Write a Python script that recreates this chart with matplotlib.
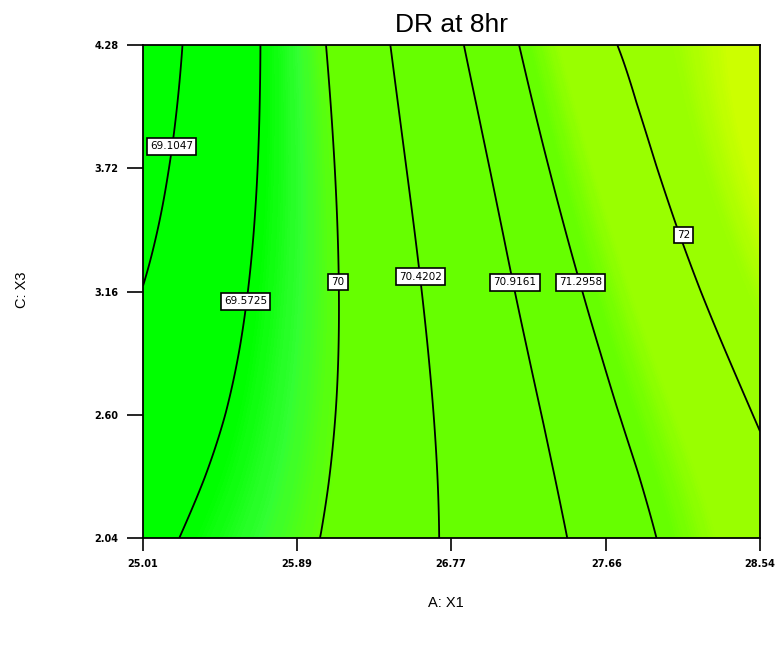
import numpy as np
import matplotlib
matplotlib.use("Agg")
import matplotlib.pyplot as plt
from matplotlib.colors import LinearSegmentedColormap, Normalize

# Axis ranges and ticks (A: X1 horizontal, C: X3 vertical)
x_ticks = [25.01, 25.89, 26.77, 27.66, 28.54]
y_ticks = [2.04, 2.60, 3.16, 3.72, 4.28]
x_lo, x_hi = 25.01, 28.54

# Contour levels of DR at 8hr
levels = [69.1047, 69.5725, 70, 70.4202, 70.9161, 71.2958, 72]

rows_y = [4.28, 4.00, 3.72, 3.44, 3.16, 2.88, 2.60, 2.32, 2.04]

# A: X1 position where each contour crosses each row (nan = not in view)
nan = np.nan
cross_69_1047 = [25.237, 25.205, 25.153, 25.083, nan, nan, nan, nan, nan]
cross_69_5725 = [25.683, 25.677, 25.664, 25.641, 25.616, 25.566, 25.482, 25.362, 25.222]
cross_70_0000 = [26.057, 26.086, 26.106, 26.123, 26.131, 26.131, 26.114, 26.071, 26.027]
cross_70_4202 = [26.427, 26.469, 26.512, 26.568, 26.610, 26.638, 26.675, 26.694, 26.705]
cross_70_9161 = [26.846, 26.919, 26.998, 27.070, 27.134, 27.207, 27.301, 27.364, 27.437]
cross_71_2958 = [27.163, 27.241, 27.341, 27.421, 27.527, 27.627, 27.742, 27.848, 27.952]
cross_72_0000 = [27.720, 27.834, 27.949, 28.062, 28.199, 28.357, 28.506, nan, nan]

# estimated response at the left and right edge of each row
z_left = [68.87, 68.90, 68.96, 69.04, 69.10, 69.20, 69.30, 69.38, 69.46]
z_right = [72.70, 72.65, 72.60, 72.50, 72.33, 72.18, 72.03, 71.92, 71.80]

# label spots (A: X1, C: X3) for each level
label_x = [25.173, 25.596, 26.126, 26.600, 27.138, 27.513, 28.102]
label_y = [3.819, 3.115, 3.203, 3.228, 3.201, 3.201, 3.417]

crossings = [cross_69_1047, cross_69_5725, cross_70_0000, cross_70_4202,
             cross_70_9161, cross_71_2958, cross_72_0000]

# build the response field row by row from the read crossings
xf = np.linspace(x_lo, x_hi, 500)
Z = []
for i in range(len(rows_y)):
    xp = [x_lo]
    zp = [z_left[i]]
    for lv, cr in zip(levels, crossings):
        if not np.isnan(cr[i]):
            xp.append(cr[i])
            zp.append(lv)
    xp.append(x_hi)
    zp.append(z_right[i])
    Z.append(np.interp(xf, xp, zp))
Z = np.array(Z)

# smooth each column along C: X3 so the contour lines bend gently
yf = np.linspace(2.04, 4.28, 120)
Zs = np.empty((len(yf), len(xf)))
for j in range(len(xf)):
    Zs[:, j] = np.polyval(np.polyfit(rows_y, Z[:, j], 3), yf)

# Design-Expert like green -> yellow colour ramp
vmin, vmax = 68.8, 72.8
stops = [(68.8, (0.0, 1.0, 0.0)),
         (69.62, (0.0, 1.0, 0.0)),
         (69.82, (0.2, 1.0, 0.2)),
         (70.02, (0.4, 1.0, 0.0)),
         (71.38, (0.4, 1.0, 0.0)),
         (71.60, (0.6, 1.0, 0.0)),
         (72.28, (0.6, 1.0, 0.0)),
         (72.55, (0.8, 1.0, 0.0)),
         (72.8, (0.8, 1.0, 0.0))]
cmap = LinearSegmentedColormap.from_list(
    "de", [((z - vmin) / (vmax - vmin), c) for z, c in stops])

fig = plt.figure(figsize=(7.79, 6.46), dpi=100)
ax = fig.add_axes([143 / 779, 1 - 538 / 646, 617 / 779, 493 / 646])

cf = ax.contourf(xf, yf, Zs, levels=np.linspace(vmin, vmax, 300),
                 cmap=cmap, norm=Normalize(vmin, vmax), extend="both")
cf.set_edgecolor("face")
ax.contour(xf, yf, Zs, levels=levels, colors="k", linewidths=1.3)

for lv, lx, ly in zip(levels, label_x, label_y):
    ax.text(lx, ly, f"{lv:g}", ha="center", va="center", fontsize=7.5,
            family="DejaVu Sans",
            bbox=dict(boxstyle="square,pad=0.3", fc="white", ec="black", lw=1.2))

ax.set_xlim(x_lo, x_hi)
ax.set_ylim(2.04, 4.28)
ax.set_xticks(x_ticks)
ax.set_yticks(y_ticks)
ax.set_xticklabels([f"{v:.2f}" for v in x_ticks], fontsize=7, fontweight="bold")
ax.set_yticklabels([f"{v:.2f}" for v in y_ticks], fontsize=7, fontweight="bold")
ax.tick_params(axis="x", length=9, width=1.2, pad=6)
ax.tick_params(axis="y", length=11.5, width=1.2, pad=6)
for s in ax.spines.values():
    s.set_linewidth(1.3)

ax.set_title("DR at 8hr", fontsize=19, family="Liberation Sans", pad=9)
fig.text(446 / 779, 1 - 603 / 646, "A: X1", ha="center", va="center",
         fontsize=10.5, family="Liberation Sans")
fig.text(22 / 779, 1 - 290 / 646, "C: X3", ha="center", va="center",
         rotation=90, fontsize=10.5, family="Liberation Sans")

fig.savefig("out.png", dpi=100)
